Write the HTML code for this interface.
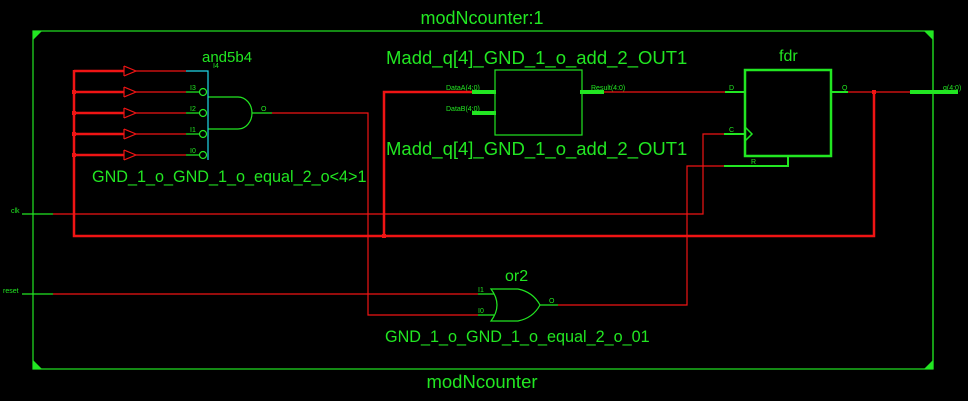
<!DOCTYPE html>
<html><head><style>html,body{margin:0;padding:0;background:#000;}svg{display:block}</style></head><body>
<svg width="968" height="401" viewBox="0 0 968 401" xmlns="http://www.w3.org/2000/svg" font-family="Liberation Sans, sans-serif">
<rect width="968" height="401" fill="#000"/>
<g fill="#22e622" font-size="18.5">
<text x="482" y="24" text-anchor="middle" font-size="18">modNcounter:1</text>
<text x="482" y="388" text-anchor="middle" font-size="18.5">modNcounter</text>
<text x="202" y="62" font-size="15">and5b4</text>
<text x="386" y="64">Madd_q[4]_GND_1_o_add_2_OUT1</text>
<text x="386" y="155">Madd_q[4]_GND_1_o_add_2_OUT1</text>
<text x="779" y="61" font-size="16">fdr</text>
<text x="92" y="182" font-size="16.2">GND_1_o_GND_1_o_equal_2_o&lt;4&gt;1</text>
<text x="505" y="281" font-size="16">or2</text>
<text x="385" y="342" font-size="16.2">GND_1_o_GND_1_o_equal_2_o_01</text>
</g>
<g fill="#22e622" font-size="7">
<text x="11" y="213">clk</text><text x="3" y="293">reset</text>
<text x="213" y="68">I4</text><text x="190" y="90">I3</text><text x="190" y="111">I2</text><text x="190" y="132">I1</text><text x="190" y="153">I0</text>
<text x="261" y="111">O</text>
<text x="446" y="90">DataA(4:0)</text><text x="446" y="111">DataB(4:0)</text>
<text x="591" y="90">Result(4:0)</text>
<text x="729" y="90">D</text><text x="729" y="132">C</text><text x="751" y="164">R</text><text x="842" y="90">Q</text>
<text x="943" y="90">q(4:0)</text>
<text x="478" y="292">I1</text><text x="478" y="313">I0</text><text x="549" y="303">O</text>
</g>
<rect x="33" y="31" width="900" height="338" fill="none" stroke="#22e622" stroke-width="1.2"/>
<g fill="#22e622">
<polygon points="33,31 42,31 33,40"/><polygon points="933,31 924,31 933,40"/>
<polygon points="33,369 42,369 33,360"/><polygon points="933,369 924,369 933,360"/>
</g>
<g stroke="#f01414" stroke-width="2.5" fill="none">
<path d="M74,70 V236 H874 V92"/>
<path d="M384,236 V92 H474"/>
<path d="M74,71 H124 M74,92 H124 M74,113 H124 M74,134 H124 M74,155 H124"/>
</g>
<g fill="#f01414"><rect x="72" y="90" width="4" height="4"/><rect x="72" y="111" width="4" height="4"/><rect x="72" y="132" width="4" height="4"/><rect x="72" y="153" width="4" height="4"/><rect x="382" y="234" width="4" height="4"/><rect x="872" y="90" width="4" height="4"/></g>
<g stroke="#f01414" stroke-width="1.2" fill="none">
<path d="M124,66 V76 M124,66 L136,71 L124,76"/><path d="M124,87 V97 M124,87 L136,92 L124,97"/><path d="M124,108 V118 M124,108 L136,113 L124,118"/><path d="M124,129 V139 M124,129 L136,134 L124,139"/><path d="M124,150 V160 M124,150 L136,155 L124,160"/>
<path d="M136,71 H186 M136,92 H186 M136,113 H186 M136,134 H186 M136,155 H186"/>
<path d="M272,113 H368 V315 H478"/>
<path d="M53,214 H703 V134 H724"/>
<path d="M53,294 H478"/>
<path d="M558,305 H687 V166 H724"/>
<path d="M604,92 H725"/>
<path d="M848,92 H910"/>
</g>
<g stroke="#22e622" stroke-width="1.2" fill="none">
<path d="M186,92 H199 M186,113 H199 M186,134 H199 M186,155 H199"/>
<circle cx="203" cy="92" r="3.5"/><circle cx="203" cy="113" r="3.5"/><circle cx="203" cy="134" r="3.5"/><circle cx="203" cy="155" r="3.5"/>
<path d="M208,97 H238 A14,16 0 0 1 238,129 H208"/>
<path d="M252,113 H272"/>
</g>
<path d="M186,71 H208 V160" stroke="#20d8e8" stroke-width="1.2" fill="none"/>
<rect x="495" y="70" width="87" height="65" fill="none" stroke="#22e622" stroke-width="1.2"/>
<g stroke="#22e622" stroke-width="4"><path d="M472,92 H496 M472,113 H496 M580,92 H604 M910,92 H958"/></g>
<g stroke="#22e622" fill="none">
<rect x="745" y="70" width="86" height="86" stroke-width="2.5"/>
<path d="M725,92 H745 M724,134 H745 M831,92 H848 M724,166 H788 V156" stroke-width="2"/>
<path d="M745,127 L752,134 L745,141" stroke-width="1.5"/>
<path d="M933,31 V369" stroke-width="1.2"/>
</g>
<g stroke="#22e622" stroke-width="1.2" fill="none">
<path d="M491,289 H518 Q533,292 540,305 Q533,318 518,321 H491 Q503,305 491,289 Z"/>
<path d="M478,294 H494 M478,315 H494 M540,305 H558 M22,214 H53 M22,294 H53"/>
</g>
</svg>
</body></html>
